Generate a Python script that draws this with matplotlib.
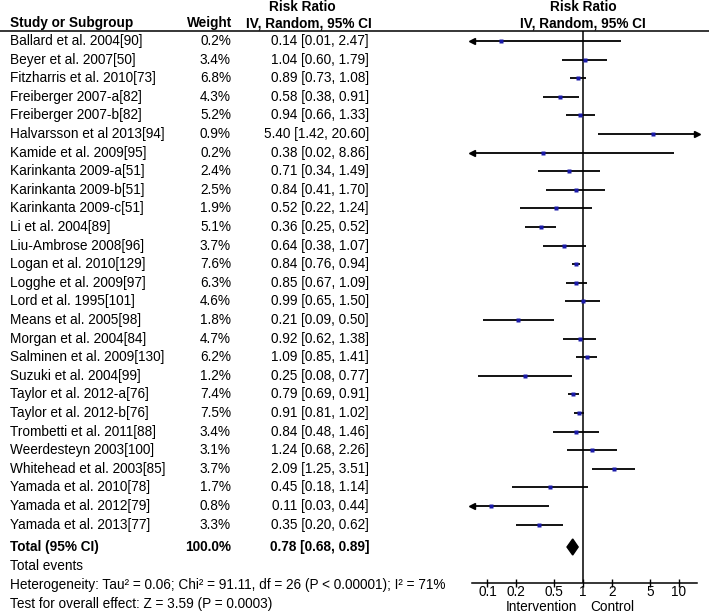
import matplotlib
matplotlib.use("Agg")
import matplotlib.pyplot as plt

plt.rcParams['font.family'] = ['Liberation Sans', 'DejaVu Sans']

studies = ["Ballard et al. 2004[90]", "Beyer et al. 2007[50]", "Fitzharris et al. 2010[73]",
           "Freiberger 2007-a[82]", "Freiberger 2007-b[82]", "Halvarsson et al 2013[94]",
           "Kamide et al. 2009[95]", "Karinkanta 2009-a[51]", "Karinkanta 2009-b[51]",
           "Karinkanta 2009-c[51]", "Li et al. 2004[89]", "Liu-Ambrose 2008[96]",
           "Logan et al. 2010[129]", "Logghe et al. 2009[97]", "Lord et al. 1995[101]",
           "Means et al. 2005[98]", "Morgan et al. 2004[84]", "Salminen et al. 2009[130]",
           "Suzuki et al. 2004[99]", "Taylor et al. 2012-a[76]", "Taylor et al. 2012-b[76]",
           "Trombetti et al. 2011[88]", "Weerdesteyn 2003[100]", "Whitehead et al. 2003[85]",
           "Yamada et al. 2010[78]", "Yamada et al. 2012[79]", "Yamada et al. 2013[77]"]
weights = [0.2, 3.4, 6.8, 4.3, 5.2, 0.9, 0.2, 2.4, 2.5, 1.9, 5.1, 3.7, 7.6, 6.3, 4.6,
           1.8, 4.7, 6.2, 1.2, 7.4, 7.5, 3.4, 3.1, 3.7, 1.7, 0.8, 3.3]
rr = [0.14, 1.04, 0.89, 0.58, 0.94, 5.40, 0.38, 0.71, 0.84, 0.52, 0.36, 0.64, 0.84, 0.85,
      0.99, 0.21, 0.92, 1.09, 0.25, 0.79, 0.91, 0.84, 1.24, 2.09, 0.45, 0.11, 0.35]
ci_low = [0.01, 0.60, 0.73, 0.38, 0.66, 1.42, 0.02, 0.34, 0.41, 0.22, 0.25, 0.38, 0.76, 0.67,
          0.65, 0.09, 0.62, 0.85, 0.08, 0.69, 0.81, 0.48, 0.68, 1.25, 0.18, 0.03, 0.20]
ci_high = [2.47, 1.79, 1.08, 0.91, 1.33, 20.60, 8.86, 1.49, 1.70, 1.24, 0.52, 1.07, 0.94, 1.09,
           1.50, 0.50, 1.38, 1.41, 0.77, 0.91, 1.02, 1.46, 2.26, 3.51, 1.14, 0.44, 0.62]
total = (0.78, 0.68, 0.89)
ticks = [0.1, 0.2, 0.5, 1, 2, 5, 10]
tick_labels = ["0.1", "0.2", "0.5", "1", "2", "5", "10"]

W, H = 709, 615
fs = 9.8
row_top, row_step = 41, 18.6
total_y = 547
axis_y, line_y = 583, 31
x_left, x_right = 0.0689, 15.6

fig = plt.figure(figsize=(W / 100, H / 100), dpi=100)
bg = fig.add_axes([0, 0, 1, 1])
bg.set_xlim(0, W)
bg.set_ylim(H, 0)
bg.axis('off')

# headers
bg.text(10, 23, "Study or Subgroup", fontsize=fs, fontweight='bold', va='center')
bg.text(232, 23, "Weight", fontsize=fs, fontweight='bold', va='center', ha='right')
bg.text(302, 7, "Risk Ratio", fontsize=fs, fontweight='bold', va='center', ha='center')
bg.text(309, 23, "IV, Random, 95% CI", fontsize=fs, fontweight='bold', va='center', ha='center')
bg.text(583, 7, "Risk Ratio", fontsize=fs, fontweight='bold', va='center', ha='center')
bg.text(583, 23, "IV, Random, 95% CI", fontsize=fs, fontweight='bold', va='center', ha='center')
bg.plot([0, W], [line_y, line_y], color='black', lw=1.1)

for i, name in enumerate(studies):
    y = row_top + i * row_step
    bg.text(10, y, name, fontsize=fs, va='center')
    bg.text(231, y, "%.1f%%" % weights[i], fontsize=fs, va='center', ha='right')
    bg.text(369, y, "%.2f [%.2f, %.2f]" % (rr[i], ci_low[i], ci_high[i]), fontsize=fs,
            va='center', ha='right')

bg.text(10, total_y, "Total (95% CI)", fontsize=fs, fontweight='bold', va='center')
bg.text(231, total_y, "100.0%", fontsize=fs, fontweight='bold', va='center', ha='right')
bg.text(369, total_y, "%.2f [%.2f, %.2f]" % total, fontsize=fs, fontweight='bold',
        va='center', ha='right')
bg.text(10, 566, "Total events", fontsize=fs, va='center')
bg.text(10, 585, "Heterogeneity: Tau\u00b2 = 0.06; Chi\u00b2 = 91.11, df = 26 (P < 0.00001); I\u00b2 = 71%",
        fontsize=fs, va='center')
bg.text(10, 604, "Test for overall effect: Z = 3.59 (P = 0.0003)", fontsize=fs, va='center')
bg.text(577, 607, "Intervention", fontsize=fs, va='center', ha='right')
bg.text(590, 607, "Control", fontsize=fs, va='center', ha='left')

# forest panel
ax = fig.add_axes([472 / W, (H - axis_y) / H, (697 - 472) / W, (axis_y - line_y) / H])
ax.set_xscale('log')
ax.set_xlim(x_left, x_right)
ax.set_ylim(axis_y, line_y)
ax.patch.set_visible(False)
for s in ['top', 'left', 'right']:
    ax.spines[s].set_visible(False)
ax.spines['bottom'].set_linewidth(1.1)
ax.set_yticks([])
ax.set_xticks(ticks)
ax.set_xticklabels(tick_labels, fontsize=fs)
ax.minorticks_off()
ax.tick_params(axis='x', direction='inout', length=6, width=1.0, pad=-1.5)
ax.axvline(1, color='black', lw=1.1)

for i in range(len(studies)):
    y = row_top + i * row_step
    lo = max(ci_low[i], x_left)
    hi = min(ci_high[i], x_right)
    ax.plot([lo, hi], [y, y], color='black', lw=1.3, solid_capstyle='butt')
    if ci_low[i] < x_left:
        ax.plot([x_left], [y], marker='<', color='black', ms=5, clip_on=False)
    if ci_high[i] > x_right:
        ax.plot([x_right], [y], marker='>', color='black', ms=5, clip_on=False)
    ax.plot([rr[i]], [y], marker='s', color='#1a1aa8', ms=2.4 + 0.12 * weights[i],
            mec='none', zorder=5)

est, lo, hi = total
ax.fill([lo, est, hi, est], [total_y, total_y - 8, total_y, total_y + 8], color='black')

fig.savefig("out.png", dpi=100)
